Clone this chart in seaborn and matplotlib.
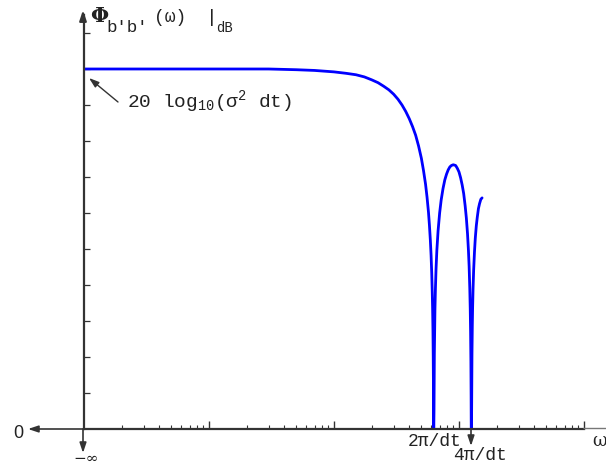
import matplotlib
matplotlib.use("Agg")
import matplotlib.pyplot as plt
import numpy as np
import pandas as pd
import seaborn as sns
from matplotlib.ticker import LogLocator, NullFormatter, FixedLocator

# ---- data (omega in rad/s with dt = 0.01, level in dB rel. to 20log10(sigma^2 dt))
omega = [1, 10, 20, 30, 50, 70, 100, 125, 150, 175, 200, 225, 250, 275, 300, 325, 350, 375,
         400, 425, 450, 475, 500, 520, 540, 555, 570, 580, 590, 598, 605, 611, 615, 619,
         622, 624, 626, 627.3, 628.3,
         631, 635, 642, 648, 655, 665, 680, 700, 720, 745, 770, 795, 820, 845, 870, 900,
         940, 970, 1000, 1030, 1060, 1090, 1120, 1145, 1170, 1190, 1205, 1220, 1230, 1238,
         1245, 1250, 1253, 1256.6,
         1262, 1270, 1278, 1285, 1295, 1310, 1330, 1350, 1375, 1400, 1430, 1460, 1495, 1530]
level_db = [0.0, 0.0, 0.0, 0.0, -0.1, -0.2, -0.4, -0.6, -0.8, -1.1, -1.5, -1.9, -2.4, -2.9,
            -3.5, -4.2, -5.0, -5.9, -6.9, -8.0, -9.2, -10.7, -12.4, -14.1, -16.0, -17.8,
            -19.9, -21.7, -23.8, -25.9, -28.3, -31.0, -33.3, -36.4, -39.9, -43.2, -48.6,
            -50.0, -50.0,
            -47.4, -39.6, -33.4, -30.4, -27.8, -25.2, -22.5, -20.0, -18.2, -16.6, -15.4,
            -14.6, -14.0, -13.6, -13.4, -13.3, -13.4, -13.8, -14.3, -15.1, -16.1, -17.3,
            -19.0, -20.7, -22.9, -25.2, -27.4, -30.5, -33.3, -36.5, -40.6, -45.5, -50.0,
            -50.0,
            -47.4, -39.6, -35.6, -33.2, -30.6, -27.9, -25.4, -23.5, -21.8, -20.6, -19.4,
            -18.7, -18.1, -17.9]
y_ticks_db = [-45, -40, -35, -30, -25, -20, -15, -10, -5, 0, 5]
x_major = [10, 100, 1000, 10000]
ylabel_main = "Φ"
ylabel_sub = "b'b'"
ylabel_arg = "(ω)"
ylabel_db = "dB"
annot_text = "20 log$_{10}$(σ$^2$ dt)"
lbl_2pi = "2π/dt"
lbl_4pi = "4π/dt"
lbl_zero = "0"
lbl_minf = "−∞"
lbl_omega = "ω"

sns.set_theme(style="white")
plt.rcParams['font.family'] = ['Liberation Mono', 'DejaVu Sans']
plt.rcParams['mathtext.fontset'] = 'custom'
plt.rcParams['mathtext.rm'] = 'Liberation Mono'
plt.rcParams['mathtext.it'] = 'Liberation Mono'

W, H = 606, 468
fig = plt.figure(figsize=(W / 100, H / 100), dpi=100)
ax = fig.add_axes([84 / W, 39 / H, 500 / W, 414 / H])
ax.set_facecolor('none')

df = pd.DataFrame({"omega": omega, "level": level_db})
sns.lineplot(data=df, x="omega", y="level", ax=ax, color="#0000ff", lw=2.0,
             sort=False, estimator=None)
ax.set_xscale('log')
ax.set_xlim(1, 1e4)
ax.set_ylim(-50, 7.5)
ax.set_xlabel("")
ax.set_ylabel("")

axc = "#333333"
for s in ['top', 'right']:
    ax.spines[s].set_visible(False)
for s in ['left', 'bottom']:
    ax.spines[s].set_color(axc)
    ax.spines[s].set_linewidth(1.6)

ax.xaxis.set_major_locator(FixedLocator(x_major))
ax.xaxis.set_minor_locator(LogLocator(base=10, subs=np.arange(2, 10)))
ax.xaxis.set_major_formatter(NullFormatter())
ax.xaxis.set_minor_formatter(NullFormatter())
ax.yaxis.set_major_locator(FixedLocator(y_ticks_db))
ax.yaxis.set_major_formatter(NullFormatter())
ax.tick_params(axis='x', which='major', direction='in', length=6, width=1.0, color=axc, bottom=True)
ax.tick_params(axis='x', which='minor', direction='in', length=3, width=0.8, color=axc, bottom=True)
ax.tick_params(axis='y', which='major', direction='in', length=4, width=0.9, color=axc, left=True)


def P(x, y):
    return (x / W, 1 - y / H)


def arrow(x0, y0, x1, y1, lw=1.2, color=axc, head=True):
    style = dict(arrowstyle='-|>,head_length=0.6,head_width=0.2' if head else '-',
                 color=color, lw=lw, shrinkA=0, shrinkB=0)
    fig.add_artist(matplotlib.patches.FancyArrowPatch(P(x0, y0), P(x1, y1),
                   transform=fig.transFigure, mutation_scale=10, **style))


# axis arrows
arrow(83, 20, 83, 10, lw=1.6)             # y axis top
arrow(83, 429, 28, 429, lw=1.2)           # to 0 on left
arrow(83, 429, 83, 453, lw=1.2)           # down to -inf
arrow(471, 429, 471, 446, lw=1.2)         # 4pi/dt marker
arrow(584, 428.5, 606, 428.5, lw=1.0, color="#777777", head=False)
arrow(118, 102, 89, 78, lw=1.0)           # annotation arrow

txt = dict(color="#222222")
fig.text(*P(18, 433), lbl_zero, ha='center', va='center', fontsize=13,
         family=['Liberation Sans', 'DejaVu Sans'], **txt)
fig.text(*P(86, 459), lbl_minf, ha='center', va='center', fontsize=11,
         family=['DejaVu Serif'], **txt)
fig.text(*P(435, 441), lbl_2pi, ha='center', va='center', fontsize=13, **txt)
fig.text(*P(480, 456), lbl_4pi, ha='center', va='center', fontsize=13, **txt)
fig.text(*P(592, 441), lbl_omega, ha='left', va='center', fontsize=13,
         family=['DejaVu Serif'], **txt)

# y label pieces
fig.text(*P(90, 16), ylabel_main, ha='left', va='center', fontsize=15,
         family=['DejaVu Serif'], weight='bold', **txt)
fig.text(*P(106, 28), ylabel_sub, ha='left', va='center', fontsize=12.5, **txt)
fig.text(*P(154, 17), ylabel_arg, ha='left', va='center', fontsize=13, **txt)
fig.text(*P(206, 17), "|", ha='left', va='center', fontsize=14, **txt)
fig.text(*P(216, 28), ylabel_db, ha='left', va='center', fontsize=10, **txt)

fig.text(*P(127, 102), annot_text, ha='left', va='center', fontsize=14, **txt)

fig.savefig("out.png", dpi=100)
